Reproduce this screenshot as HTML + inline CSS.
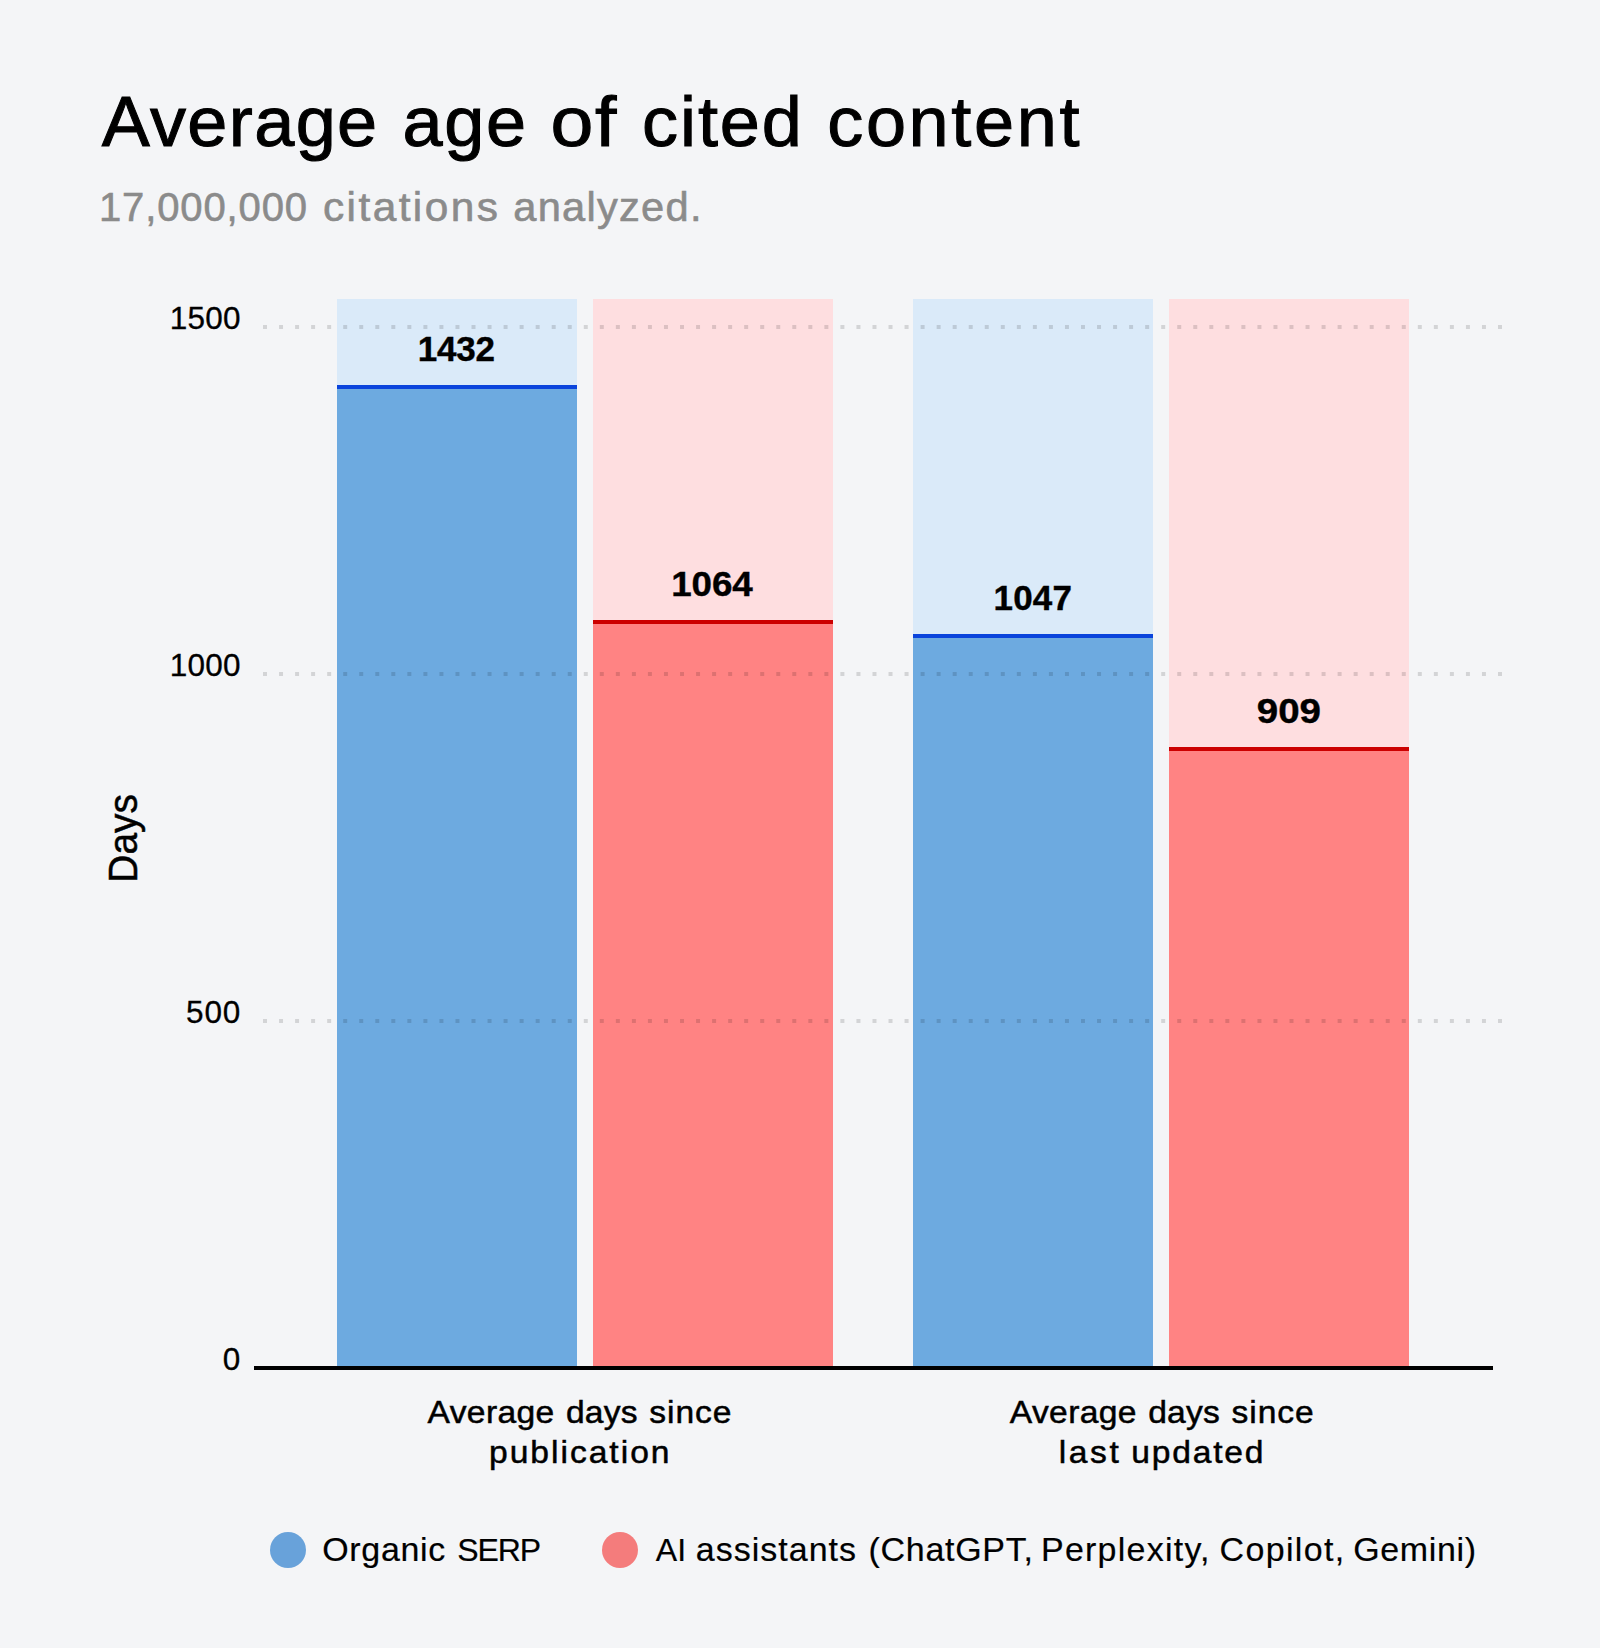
<!DOCTYPE html>
<html lang="en">
<head>
<meta charset="utf-8">
<title>Average age of cited content</title>
<style>
html,body{margin:0;padding:0;background:#f4f5f7;}
body{width:1600px;height:1648px;overflow:hidden;position:relative;font-family:"Liberation Sans",sans-serif;}
svg{position:absolute;left:0;top:0;display:block;}
text{font-family:"Liberation Sans",sans-serif;white-space:pre;}
</style>
</head>
<body>
<svg width="1600" height="1648" viewBox="0 0 1600 1648">
  <rect x="0" y="0" width="1600" height="1648" fill="#f4f5f7"/>
  <!-- light bars -->
  <rect x="337" y="299" width="240" height="1068" fill="#daeaf9"/>
  <rect x="593" y="299" width="240" height="1068" fill="#fedee0"/>
  <rect x="913" y="299" width="240" height="1068" fill="#daeaf9"/>
  <rect x="1169" y="299" width="240" height="1068" fill="#fedee0"/>
  <!-- dark bars -->
  <rect x="337" y="387" width="240" height="980" fill="#6daae0"/>
  <rect x="593" y="622" width="240" height="745" fill="#ff8383"/>
  <rect x="913" y="636" width="240" height="731" fill="#6daae0"/>
  <rect x="1169" y="749" width="240" height="618" fill="#ff8383"/>
  <!-- value lines -->
  <rect x="337" y="385" width="240" height="4" fill="#0a44dc"/>
  <rect x="593" y="620" width="240" height="4" fill="#cc0000"/>
  <rect x="913" y="634" width="240" height="4" fill="#0a44dc"/>
  <rect x="1169" y="747" width="240" height="4" fill="#cc0000"/>
  <!-- dotted gridlines -->
  <g stroke="#000" stroke-opacity="0.135" stroke-width="4" stroke-dasharray="4 12.039" fill="none">
    <line x1="263" y1="327" x2="1502" y2="327"/>
    <line x1="263" y1="674" x2="1502" y2="674"/>
    <line x1="263" y1="1021" x2="1502" y2="1021"/>
  </g>
  <!-- axis -->
  <rect x="254" y="1366" width="1239" height="4" fill="#000"/>
  <!-- y axis title -->
  <text transform="translate(137,879.8) rotate(-90) scale(0.96,1)" font-size="40.5" fill="#000" stroke="#000" stroke-width="0.5" x="-3">Days</text>
  <!-- legend markers -->
  <circle cx="288" cy="1550" r="18" fill="#68a2da"/>
  <circle cx="620" cy="1550" r="18" fill="#f47c7c"/>
  <!-- title -->
  <g>
    <text transform="translate(101.75 146) scale(1.03 1)" font-size="70" fill="#000" stroke="#000" stroke-width="1.0" letter-spacing="1.335">Average</text>
    <text transform="translate(402.50 146) scale(1.03 1)" font-size="70" fill="#000" stroke="#000" stroke-width="1.0" letter-spacing="1.650">age</text>
    <text transform="translate(550.50 146) scale(1.1 1)" font-size="70" fill="#000" stroke="#000" stroke-width="1.0" letter-spacing="1.636">of</text>
    <text transform="translate(642.00 146) scale(1.03 1)" font-size="70" fill="#000" stroke="#000" stroke-width="1.0" letter-spacing="1.857">cited</text>
    <text transform="translate(827.25 146) scale(1.03 1)" font-size="70" fill="#000" stroke="#000" stroke-width="1.0" letter-spacing="2.540">content</text>
  </g>
  <!-- subtitle -->
  <g>
    <text x="99.00" y="221.3" font-size="40" fill="#8b8b8b" stroke="#8b8b8b" stroke-width="0.6" letter-spacing="0.872">17,000,000</text>
    <text transform="translate(323.00 221.3) scale(1.06 1)" font-size="40" fill="#8b8b8b" stroke="#8b8b8b" stroke-width="0.6" letter-spacing="2.282">citations</text>
    <text transform="translate(513.25 221.3) scale(1.04 1)" font-size="40" fill="#8b8b8b" stroke="#8b8b8b" stroke-width="0.6" letter-spacing="1.226">analyzed.</text>
  </g>
  <!-- y tick labels -->
  <g>
    <text x="169.75" y="329.4" font-size="31.5" fill="#000" stroke="#000" stroke-width="0.3" letter-spacing="0.217">1500</text>
    <text x="169.75" y="676.4" font-size="31.5" fill="#000" stroke="#000" stroke-width="0.3" letter-spacing="0.250">1000</text>
    <text x="186.00" y="1023.3" font-size="31.5" fill="#000" stroke="#000" stroke-width="0.3" letter-spacing="0.875">500</text>
    <text x="222.78" y="1370.3" font-size="31.5" fill="#000" stroke="#000" stroke-width="0.3">0</text>
  </g>
  <!-- bar value labels -->
  <g>
    <text x="417.75" y="361" font-size="35" font-weight="bold" fill="#000" stroke="#000" stroke-width="0.4" letter-spacing="-0.200">1432</text>
    <text transform="translate(671.25 596) scale(1.05 1)" font-size="35" font-weight="bold" fill="#000" stroke="#000" stroke-width="0.4" letter-spacing="-0.079">1064</text>
    <text x="993.50" y="610" font-size="35" font-weight="bold" fill="#000" stroke="#000" stroke-width="0.4" letter-spacing="0.167">1047</text>
    <text transform="translate(1256.75 723) scale(1.1 1)" font-size="35" font-weight="bold" fill="#000" stroke="#000" stroke-width="0.4">909</text>
  </g>
  <!-- x label 1 -->
  <g>
    <text transform="translate(427.50 1423.4) scale(1.05 1)" font-size="32" fill="#000" stroke="#000" stroke-width="0.5" letter-spacing="0.357">Average</text>
    <text transform="translate(566.00 1423.4) scale(1.05 1)" font-size="32" fill="#000" stroke="#000" stroke-width="0.5" letter-spacing="0.175">days</text>
    <text transform="translate(649.25 1423.4) scale(1.05 1)" font-size="32" fill="#000" stroke="#000" stroke-width="0.5" letter-spacing="0.893">since</text>
    <text transform="translate(489.00 1462.8) scale(1.05 1)" font-size="32" fill="#000" stroke="#000" stroke-width="0.5" letter-spacing="1.895">publication</text>
  </g>
  <!-- x label 2 -->
  <g>
    <text transform="translate(1009.75 1423.4) scale(1.05 1)" font-size="32" fill="#000" stroke="#000" stroke-width="0.5" letter-spacing="0.357">Average</text>
    <text transform="translate(1148.25 1423.4) scale(1.05 1)" font-size="32" fill="#000" stroke="#000" stroke-width="0.5" letter-spacing="0.175">days</text>
    <text transform="translate(1231.50 1423.4) scale(1.05 1)" font-size="32" fill="#000" stroke="#000" stroke-width="0.5" letter-spacing="0.893">since</text>
    <text transform="translate(1058.75 1462.8) scale(1.05 1)" font-size="32" fill="#000" stroke="#000" stroke-width="0.5" letter-spacing="2.492">last</text>
    <text transform="translate(1131.25 1462.8) scale(1.05 1)" font-size="32" fill="#000" stroke="#000" stroke-width="0.5" letter-spacing="1.714">updated</text>
  </g>
  <!-- legend item 1 -->
  <g>
    <text transform="translate(322.25 1561.3) scale(1.03 1)" font-size="33" fill="#000" stroke="#000" stroke-width="0.2" letter-spacing="0.647">Organic</text>
    <text x="457.25" y="1561.3" font-size="32" fill="#000" stroke="#000" stroke-width="0.2" letter-spacing="-1.100">SERP</text>
  </g>
  <!-- legend item 2 -->
  <g>
    <text x="655.75" y="1561.3" font-size="32" fill="#000" stroke="#000" stroke-width="0.2" letter-spacing="0.200">AI</text>
    <text transform="translate(695.75 1561.3) scale(1.03 1)" font-size="33" fill="#000" stroke="#000" stroke-width="0.2" letter-spacing="0.998">assistants</text>
    <text transform="translate(868.50 1561.3) scale(1.03 1)" font-size="33" fill="#000" stroke="#000" stroke-width="0.2" letter-spacing="0.704">(ChatGPT,</text>
    <text transform="translate(1041.00 1561.3) scale(1.03 1)" font-size="33" fill="#000" stroke="#000" stroke-width="0.2" letter-spacing="1.209">Perplexity,</text>
    <text transform="translate(1219.50 1561.3) scale(1.03 1)" font-size="33" fill="#000" stroke="#000" stroke-width="0.2" letter-spacing="1.311">Copilot,</text>
    <text transform="translate(1353.25 1561.3) scale(1.03 1)" font-size="33" fill="#000" stroke="#000" stroke-width="0.2" letter-spacing="0.623">Gemini)</text>
  </g>
</svg>
</body>
</html>
